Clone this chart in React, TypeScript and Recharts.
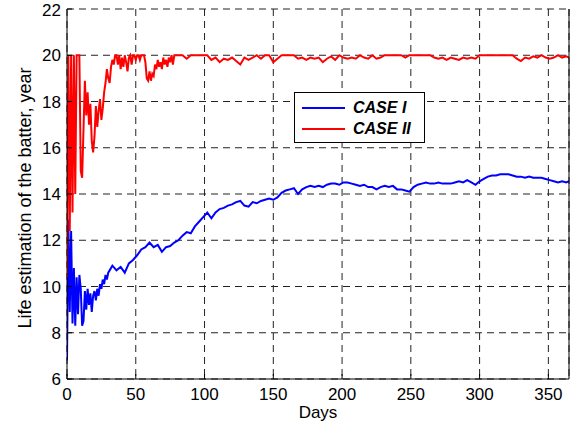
import { LineChart, Line, XAxis, YAxis, CartesianGrid, Legend } from "recharts";

const xTicks = [0, 50, 100, 150, 200, 250, 300, 350];
const yTicks = [6, 8, 10, 12, 14, 16, 18, 20, 22];
const seriesNames = ["CASE I", "CASE II"];
const seriesColors = ["#0000ff", "#ff0000"];

// CASE I (blue): daily values for days 0..29
const caseOneDaily = [
  6.8, 12.9, 8.9, 12.4, 8.4, 10.8, 8.3, 10.4, 8.8, 10.5,
  9.9, 8.3, 8.5, 9.8, 9.0, 9.9, 9.2, 9.7, 8.9, 9.6,
  9.8, 9.4, 9.9, 9.6, 10.1, 9.9, 10.3, 10.1, 10.5, 10.3,
];
// CASE I: every 3 days from day 30 to day 363
const caseOneCoarse = [
  10.6, 10.9, 10.7, 10.85, 10.6, 11.0, 11.15, 11.35, 11.6, 11.7,
  11.9, 11.7, 11.8, 11.5, 11.7, 11.75, 11.9, 12.0, 12.2, 12.35,
  12.3, 12.6, 12.8, 13.0, 13.2, 12.95, 13.2, 13.35, 13.4, 13.5,
  13.55, 13.65, 13.7, 13.5, 13.45, 13.65, 13.6, 13.7, 13.75, 13.8,
  13.75, 13.85, 14.05, 14.15, 14.2, 14.25, 14.0, 14.2, 14.3, 14.35,
  14.3, 14.35, 14.3, 14.4, 14.45, 14.45, 14.4, 14.5, 14.5, 14.45,
  14.4, 14.35, 14.4, 14.3, 14.3, 14.2, 14.3, 14.35, 14.3, 14.35,
  14.2, 14.2, 14.15, 14.1, 14.3, 14.4, 14.45, 14.5, 14.45, 14.45,
  14.5, 14.45, 14.45, 14.45, 14.5, 14.55, 14.5, 14.6, 14.5, 14.4,
  14.55, 14.65, 14.75, 14.8, 14.8, 14.85, 14.85, 14.85, 14.8, 14.75,
  14.75, 14.7, 14.75, 14.7, 14.7, 14.7, 14.65, 14.6, 14.55, 14.5,
  14.55, 14.5,
];
const caseOneEnd = 14.55; // day 365

// CASE II (red): daily values for days 0..79
const caseTwoDaily = [
  10.4, 20, 12.4, 20, 13.2, 20, 14.0, 20, 20, 20,
  15.0, 14.7, 16.8, 18.9, 17.4, 18.4, 17.0, 17.9, 16.3, 15.8,
  16.5, 17.8, 16.9, 17.6, 18.1, 17.2, 17.7, 18.4, 18.8, 19.4,
  19.0, 18.8, 19.5, 19.8, 19.6, 20, 20, 19.6, 20, 19.4,
  19.9, 19.5, 20, 19.7, 19.3, 19.9, 20, 19.6, 20, 20,
  19.8, 20, 20, 19.8, 20, 20, 20, 19.7, 19.0, 18.9,
  19.3, 18.9, 19.2, 19.1, 19.6, 19.4, 19.8, 19.5, 19.7, 19.4,
  19.9, 19.6, 19.8, 19.5, 19.9, 19.7, 20, 19.6, 20, 20,
];
// CASE II: every 3 days from day 81 to day 363
const caseTwoCoarse = [
  20, 20, 19.85, 20, 20, 20, 20, 20, 19.8, 19.9,
  19.7, 19.85, 19.8, 19.9, 19.75, 19.6, 19.9, 19.8, 19.9, 20,
  19.85, 20, 20, 19.7, 19.85, 20, 20, 20, 20, 19.85,
  19.9, 19.8, 19.9, 19.85, 19.9, 19.7, 19.85, 19.95, 19.8, 20,
  19.9, 19.85, 19.9, 19.85, 20, 19.9, 19.85, 20, 19.85, 19.9,
  20, 20, 20, 20, 20, 19.9, 20, 20, 20, 20,
  20, 20, 19.9, 19.85, 19.9, 19.8, 19.9, 19.85, 19.8, 19.9,
  19.85, 19.9, 19.85, 20, 20, 20, 20, 20, 20, 20,
  20, 20, 19.85, 19.75, 19.9, 19.85, 19.95, 19.9, 20, 19.9,
  19.85, 19.9, 20, 19.9, 19.95,
];
const caseTwoEnd = 19.9; // day 365

const buildPoints = (daily: number[], coarse: number[], coarseStart: number, step: number, end: number) => {
  const pts = daily.map((value, day) => ({ day, value }));
  coarse.forEach((value, i) => pts.push({ day: coarseStart + i * step, value }));
  pts.push({ day: 365, value: end });
  return pts;
};

const caseOne = buildPoints(caseOneDaily, caseOneCoarse, 30, 3, caseOneEnd);
const caseTwo = buildPoints(caseTwoDaily, caseTwoCoarse, 81, 3, caseTwoEnd);

const font = "'Liberation Sans', Arial, Helvetica, sans-serif";

const LegendBox = () => (
  <div
    style={{
      width: 131,
      height: 51,
      boxSizing: "border-box",
      border: "1px solid #000",
      background: "#fff",
      fontFamily: font,
      fontWeight: "bold",
      fontStyle: "italic",
      fontSize: 16,
      paddingTop: 4,
    }}
  >
    {seriesNames.map((name, i) => (
      <div key={name} style={{ display: "flex", alignItems: "center", height: 21 }}>
        <div style={{ marginLeft: 7, width: 43, height: 2, background: seriesColors[i] }} />
        <span style={{ marginLeft: 8, color: "#000" }}>{name}</span>
      </div>
    ))}
  </div>
);

export default function App() {
  return (
    <div style={{ position: "absolute", left: 0, top: 0, width: 579, height: 424, background: "#fff", fontFamily: font }}>
      <LineChart width={579} height={424} margin={{ top: 9, right: 0, bottom: 0, left: 0 }}>
        <CartesianGrid stroke="#222" strokeDasharray="7 5" />
        <XAxis
          dataKey="day"
          type="number"
          domain={[0, 365]}
          ticks={xTicks}
          allowDataOverflow
          height={45}
          stroke="#000"
          tickSize={-5}
          tickMargin={14}
          tick={{ fill: "#000", fontSize: 17, fontFamily: font }}
          label={{ value: "Days", position: "insideBottom", offset: 6, fill: "#000", fontSize: 17, fontFamily: font }}
        />
        <XAxis
          xAxisId="top"
          orientation="top"
          type="number"
          domain={[0, 365]}
          ticks={xTicks}
          allowDataOverflow
          height={0}
          stroke="#000"
          tickSize={-5}
          tick={false}
        />
        <YAxis
          type="number"
          domain={[6, 22]}
          ticks={yTicks}
          allowDataOverflow
          width={67}
          stroke="#000"
          tickSize={-5}
          tickMargin={11}
          tick={{ fill: "#000", fontSize: 17, fontFamily: font }}
          label={() => (
            <text
              x={25}
              y={198}
              transform="rotate(-90 25 198)"
              textAnchor="middle"
              dominantBaseline="central"
              fill="#000"
              fontSize={18}
              fontFamily={font}
            >
              Life estimation of the batter, year
            </text>
          )}
        />
        <YAxis
          yAxisId="right"
          orientation="right"
          type="number"
          domain={[6, 22]}
          ticks={yTicks}
          allowDataOverflow
          width={10}
          stroke="#000"
          tickSize={-5}
          tick={false}
        />
        <Legend
          layout="vertical"
          align="center"
          verticalAlign="middle"
          wrapperStyle={{ position: "absolute", left: 294, top: 92, width: 131, height: 51 }}
          content={() => <LegendBox />}
        />
        <Line
          data={caseOne}
          dataKey="value"
          name={seriesNames[0]}
          stroke={seriesColors[0]}
          strokeWidth={2}
          dot={false}
          type="linear"
          isAnimationActive={false}
        />
        <Line
          data={caseTwo}
          dataKey="value"
          name={seriesNames[1]}
          stroke={seriesColors[1]}
          strokeWidth={2}
          dot={false}
          type="linear"
          isAnimationActive={false}
        />
      </LineChart>
    </div>
  );
}
